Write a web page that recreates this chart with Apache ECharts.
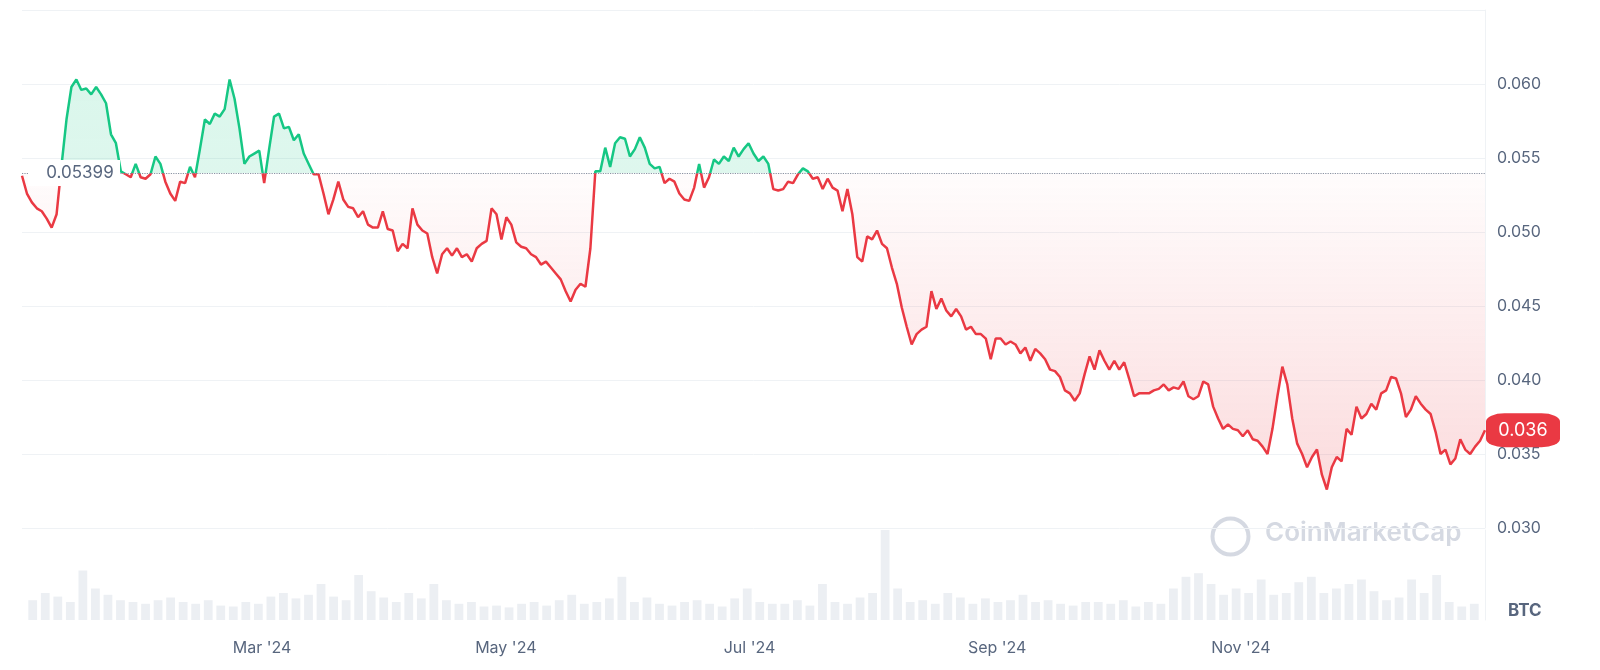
<!DOCTYPE html>
<html>
<head>
<meta charset="utf-8">
<script src="https://cdn.jsdelivr.net/npm/echarts@6/dist/echarts.min.js"></script>
<style>html,body{margin:0;padding:0;background:#fff}#main{width:1600px;height:670px}</style>
</head>
<body>
<div id="main"></div>
<script>
// price in BTC, one reading roughly every 1.24 days from 2 Jan 2024
var prices = [
0.0538,0.0526,0.0520,0.0516,0.0514,0.0509,0.0503,0.0512,0.0545,0.0576,0.0598,0.0603,0.0596,0.0597,0.0593,0.0598,
0.0593,0.0587,0.0566,0.0560,0.0541,0.0539,0.0537,0.0546,0.0537,0.0536,0.0539,0.0551,0.0546,0.0534,0.0526,0.0521,
0.0534,0.0533,0.0544,0.0537,0.0556,0.0576,0.0573,0.0580,0.0578,0.0583,0.0603,0.0590,0.0570,0.0546,0.0551,0.0553,
0.0555,0.0533,0.0556,0.0578,0.0580,0.0570,0.0571,0.0562,0.0566,0.0553,0.0546,0.0539,0.0539,0.0526,0.0512,0.0522,
0.0534,0.0522,0.0517,0.0516,0.0510,0.0514,0.0505,0.0503,0.0503,0.0514,0.0502,0.0501,0.0487,0.0492,0.0489,0.0516,
0.0505,0.0501,0.0499,0.0483,0.0472,0.0485,0.0489,0.0484,0.0489,0.0483,0.0485,0.0480,0.0489,0.0492,0.0494,0.0516,
0.0512,0.0495,0.0510,0.0505,0.0493,0.0490,0.0489,0.0485,0.0483,0.0478,0.0480,0.0476,0.0472,0.0468,0.0460,0.0453,
0.0461,0.0465,0.0463,0.0489,0.0541,0.0541,0.0557,0.0544,0.0560,0.0564,0.0563,0.0551,0.0556,0.0564,0.0557,0.0546,
0.0543,0.0544,0.0533,0.0536,0.0534,0.0526,0.0522,0.0521,0.0530,0.0546,0.0530,0.0537,0.0549,0.0546,0.0551,0.0548,
0.0557,0.0551,0.0556,0.0560,0.0553,0.0548,0.0551,0.0546,0.0529,0.0528,0.0529,0.0534,0.0533,0.0539,0.0543,0.0541,
0.0536,0.0537,0.0529,0.0536,0.0530,0.0528,0.0514,0.0529,0.0512,0.0483,0.0480,0.0497,0.0495,0.0501,0.0492,0.0489,
0.0476,0.0465,0.0449,0.0436,0.0424,0.0431,0.0434,0.0436,0.0460,0.0448,0.0455,0.0447,0.0443,0.0448,0.0443,0.0434,
0.0436,0.0431,0.0431,0.0428,0.0414,0.0428,0.0428,0.0424,0.0426,0.0424,0.0418,0.0422,0.0413,0.0421,0.0418,0.0414,
0.0407,0.0406,0.0402,0.0393,0.0391,0.0386,0.0391,0.0404,0.0416,0.0407,0.0420,0.0413,0.0407,0.0413,0.0407,0.0412,
0.0401,0.0389,0.0391,0.0391,0.0391,0.0393,0.0394,0.0397,0.0393,0.0395,0.0394,0.0399,0.0389,0.0387,0.0389,0.0399,
0.0397,0.0382,0.0374,0.0367,0.0370,0.0367,0.0366,0.0362,0.0366,0.0360,0.0359,0.0355,0.0350,0.0367,0.0389,0.0409,
0.0397,0.0374,0.0357,0.0350,0.0341,0.0348,0.0353,0.0336,0.0326,0.0341,0.0348,0.0345,0.0367,0.0363,0.0382,0.0374,
0.0377,0.0384,0.0380,0.0391,0.0393,0.0402,0.0401,0.0391,0.0375,0.0380,0.0389,0.0384,0.0380,0.0377,0.0365,0.0350,
0.0353,0.0343,0.0347,0.0360,0.0353,0.0350,0.0355,0.0359,0.0366
];
// volume, relative units, roughly every 3 days
var volumes = [
22,30,26,20,55,35,28,22,20,18,22,25,20,18,22,16,15,20,18,26,30,24,28,40,26,22,50,32,25,20,30,24,40,22,18,
20,15,16,14,18,20,16,22,28,18,20,24,48,20,25,18,16,20,22,18,15,24,35,20,18,18,22,16,40,20,18,25,30,100,35,
20,22,18,30,25,18,24,20,22,28,20,22,18,16,20,20,18,22,15,20,18,35,48,52,40,28,35,30,45,28,30,42,48,30,35,
40,45,32,22,25,45,30,50,20,15,18
];
var baseline = 0.05399;
var lastLabel = '0.036';
var monthLabels = {2: "Mar '24", 4: "May '24", 6: "Jul '24", 8: "Sep '24", 10: "Nov '24"};
var yTicks = ['0.030', '0.035', '0.040', '0.045', '0.050', '0.055', '0.060'];

var start = Date.UTC(2024, 0, 2);
var end = Date.UTC(2024, 11, 31);
var pStep = (end - start) / (prices.length - 1);
var priceData = prices.map(function (v, i) { return [start + i * pStep, v]; });
var vStep = (end - start) / volumes.length;
var volData = volumes.map(function (v, i) { return [start + (i + 0.5) * vStep, v]; });

var yMin = 0.030, yMax = 0.065;
var H = 670, gTop = 10, gH = 518;
// baseline and lowest point as fractions of the canvas height, for global gradients
var fBase = (gTop + gH * (yMax - baseline) / (yMax - yMin)) / H;
var fLow = (gTop + gH * (yMax - 0.0326) / (yMax - yMin)) / H;

var chart = echarts.init(document.getElementById('main'));
var textColor = '#58667e';
var green = '#16c784', red = '#ea3943';
chart.setOption({
  animation: false,
  grid: [
    {left: 22, right: 115, top: gTop, height: gH, outerBoundsMode: 'none'},
    {left: 22, right: 115, top: 530, height: 90, outerBoundsMode: 'none'}
  ],
  xAxis: [
    {type: 'time', gridIndex: 0, min: start, max: end, axisLine: {show: false}, axisTick: {show: false},
     axisLabel: {show: false}, splitLine: {show: false}},
    {type: 'time', gridIndex: 1, min: start, max: end, axisLine: {show: false}, axisTick: {show: false},
     splitLine: {show: false},
     axisLabel: {color: textColor, fontSize: 16, fontFamily: 'Inter', margin: 20,
       formatter: function (v) {
         var d = new Date(v);
         return d.getUTCDate() === 1 && monthLabels[d.getUTCMonth()] ? monthLabels[d.getUTCMonth()] : '';
       }}}
  ],
  yAxis: [
    {type: 'value', gridIndex: 0, position: 'right', min: yMin, max: yMax, interval: 0.005,
     axisLine: {show: true, lineStyle: {color: '#eff2f5'}},
     splitLine: {lineStyle: {color: '#eff2f5'}},
     axisLabel: {color: textColor, fontSize: 16, fontFamily: 'Inter', margin: 12, showMaxLabel: false,
       formatter: function (v) { return yTicks[Math.round((v - yMin) / 0.005)] || ''; }}},
    {type: 'value', gridIndex: 1, position: 'right', min: 0, max: 100,
     axisLine: {show: true, lineStyle: {color: '#eff2f5'}},
     axisLabel: {show: false}, splitLine: {show: false}}
  ],
  series: [
    {type: 'line', xAxisIndex: 0, yAxisIndex: 0, data: priceData, showSymbol: false,
     lineStyle: {width: 2.5, color: new echarts.graphic.LinearGradient(0, 0, 0, H, [
        {offset: 0, color: green}, {offset: fBase, color: green}, {offset: fBase, color: red}, {offset: 1, color: red}], true)},
     areaStyle: {origin: baseline, color: new echarts.graphic.LinearGradient(0, 0, 0, H, [
        {offset: 0, color: 'rgba(22,199,132,0.25)'}, {offset: fBase, color: 'rgba(22,199,132,0.2)'},
        {offset: fBase, color: 'rgba(234,57,67,0.02)'}, {offset: fLow, color: 'rgba(234,57,67,0.26)'},
        {offset: 1, color: 'rgba(234,57,67,0.26)'}], true)},
     markLine: {silent: true, symbol: 'none',
       data: [[{coord: [start, baseline]}, {coord: [end, baseline]}]],
       lineStyle: {color: '#8a93a3', type: 'dotted', width: 1.2}, label: {show: false}},
     markPoint: {silent: true, data: [
       {coord: [start, baseline], symbol: 'rect', symbolSize: [92, 26], symbolOffset: [52, 0],
        itemStyle: {color: '#fff'},
        label: {show: true, formatter: String(baseline), color: textColor, fontSize: 17, fontFamily: 'Inter', offset: [6, 0]}},
       {coord: [end, prices[prices.length - 1]], symbol: 'roundRect', symbolSize: [74, 34], symbolOffset: [38, 0],
        itemStyle: {color: red},
        label: {show: true, formatter: lastLabel, color: '#fff', fontSize: 18, fontFamily: 'Inter'}}
     ]}},
    {type: 'bar', xAxisIndex: 1, yAxisIndex: 1, data: volData, barWidth: '70%',
     itemStyle: {color: '#eceff3'}}
  ],
  graphic: [
    {type: 'circle', left: 1210, top: 516, shape: {r: 18}, style: {fill: 'none', stroke: '#d5d9e2', lineWidth: 4}},
    {type: 'text', left: 1265, top: 520, style: {text: 'CoinMarketCap', fill: '#d5d9e2', font: '600 26px Inter'}},
    {type: 'text', left: 1508, top: 602, style: {text: 'BTC', fill: textColor, font: 'bold 17px Inter'}}
  ]
});
</script>
</body>
</html>
